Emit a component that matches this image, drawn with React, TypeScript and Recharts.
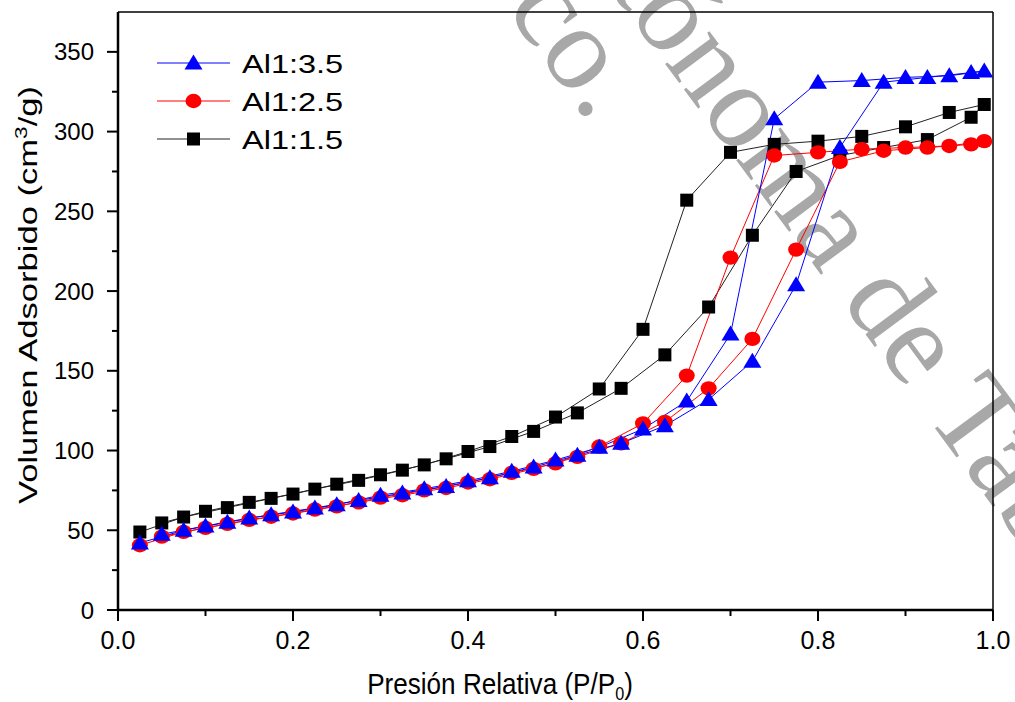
import React from 'react';
import { LineChart, Line, XAxis, YAxis, ReferenceLine } from 'recharts';

// relative pressure steps: one branch on the 0.05 grid, the other on the 0.025 offsets
const P_UP = [0.05, 0.1, 0.15, 0.2, 0.25, 0.3, 0.35, 0.4, 0.45, 0.5, 0.55, 0.6, 0.65, 0.7, 0.75, 0.8, 0.85, 0.9, 0.95, 0.99];
const P_DOWN = [0.975, 0.925, 0.875, 0.825, 0.775, 0.725, 0.675, 0.625, 0.575, 0.525, 0.475, 0.425, 0.375, 0.325, 0.275, 0.225, 0.175, 0.125, 0.075, 0.025];

const al35Up = [47.5, 52.7, 57.7, 61.5, 66, 72, 76, 81, 87, 94, 102, 113.5, 131, 173, 308, 331, 332, 334, 335, 338];
const al35Down = [337, 334, 331, 290, 204, 156, 132, 115.6, 104.5, 97, 89.6, 83, 77.5, 73.3, 68.7, 64, 59.8, 55, 50, 42];

const al25Up = [46, 51.5, 56.5, 60.5, 65, 70.5, 75, 80, 86, 92, 102.5, 117, 147, 221, 285, 287, 289, 290, 291, 294];
const al25Down = [292, 290, 288, 281, 226, 170, 139, 118, 104.5, 96, 88.5, 82, 76.5, 72, 67.5, 63, 58.5, 54, 49, 40.6];

const al15Up = [54.6, 61.9, 67.5, 72.7, 78.9, 84.8, 91, 99.4, 108.8, 121, 138.6, 176, 257, 287, 292, 294, 297, 303, 312, 317];
const al15Down = [309, 295, 290, 285, 275, 235, 190, 160, 139, 123.6, 112, 102.5, 94.8, 87.7, 81.3, 75.8, 70, 64.2, 58.3, 48.9];

const X_TICKS = [0, 0.1, 0.2, 0.3, 0.4, 0.5, 0.6, 0.7, 0.8, 0.9, 1.0];
const Y_TICKS = [0, 25, 50, 75, 100, 125, 150, 175, 200, 225, 250, 275, 300, 325, 350];

const FONT = '"Liberation Sans", Arial, sans-serif';

const loop = (up: number[], down: number[]) =>
  P_UP.map((x, i) => ({ x, y: up[i] })).concat(P_DOWN.map((x, i) => ({ x, y: down[i] })));

// drawn in this order (black under red under blue); legend lists them reversed
const SERIES = [
  { name: 'Al1:1.5', color: '#000000', line: '#222222', shape: 'square', data: loop(al15Up, al15Down) },
  { name: 'Al1:2.5', color: '#ff0000', line: '#ff0000', shape: 'circle', data: loop(al25Up, al25Down) },
  { name: 'Al1:3.5', color: '#0000ff', line: '#0000ff', shape: 'triangle', data: loop(al35Up, al35Down) },
];

function Marker({ cx, cy, shape, color }: { cx: number; cy: number; shape: string; color: string }) {
  if (cx == null || cy == null) return null;
  if (shape === 'triangle') {
    return <polygon points={`${cx},${cy - 8.5} ${cx - 9},${cy + 6.5} ${cx + 9},${cy + 6.5}`} fill={color} />;
  }
  if (shape === 'circle') {
    return <ellipse cx={cx} cy={cy} rx={8} ry={7.2} fill={color} />;
  }
  return <rect x={cx - 6.5} y={cy - 6.5} width={13} height={13} fill={color} />;
}

// ─── custom ticks with minor marks ────────────────────────────────────────────

function XTick({ x, y, payload }: any) {
  const v = payload.value;
  const major = Math.round(v * 10) % 2 === 0;
  return (
    <g>
      <line x1={x} y1={y} x2={x} y2={y + (major ? 11 : 6)} stroke="#000" strokeWidth={2} />
      {major && (
        <text x={x} y={y + 39} textAnchor="middle" fontSize={25} fontFamily={FONT} fill="#000">
          {v.toFixed(1)}
        </text>
      )}
    </g>
  );
}

function YTick({ x, y, payload }: any) {
  const v = payload.value;
  const major = v % 50 === 0;
  return (
    <g>
      <line x1={x} y1={y} x2={x - (major ? 11 : 6)} y2={y} stroke="#000" strokeWidth={2} />
      {major && (
        <text x={x - 24} y={y + 8.5} textAnchor="end" fontSize={24} fontFamily={FONT} fill="#000">
          {v}
        </text>
      )}
    </g>
  );
}

// ─── watermark, titles, legend ────────────────────────────────────────────────

function Watermark() {
  const style = { fontFamily: '"Liberation Serif", "Times New Roman", serif', fontSize: 120, fill: '#a8a8a8' };
  return (
    <svg width={1015} height={702} style={{ position: 'absolute', left: 0, top: 0 }}>
      <text transform="translate(590,124) rotate(53.5)" textAnchor="end" style={style}>
        Universidad Juárez Autónoma de Tabasco.
      </text>
      <text transform="translate(822,276) rotate(53.5)" textAnchor="end" style={style}>
        Universidad Juárez Autónoma
      </text>
      <text transform="translate(840,300) rotate(53.5)" textAnchor="start" style={style}>
        de Tabasco.
      </text>
    </svg>
  );
}

function Overlay() {
  const legend = [...SERIES].reverse();
  return (
    <svg width={1015} height={702} style={{ position: 'absolute', left: 0, top: 0, pointerEvents: 'none' }}>
      {legend.map((s, i) => {
        const cy = 63 + i * 38;
        return (
          <g key={s.name}>
            <line x1={157} y1={cy} x2={230} y2={cy} stroke={s.line} strokeWidth={1} />
            <Marker cx={193.5} cy={cy} shape={s.shape} color={s.color} />
            <text transform={`translate(242,${cy + 9.5}) scale(1.25,1)`} fontSize={26} fontFamily={FONT} fill="#000">
              {s.name}
            </text>
          </g>
        );
      })}
      <text transform="translate(500,694) scale(0.9,1)" textAnchor="middle" fontSize={29} fontFamily={FONT} fill="#000">
        Presión Relativa (P/P<tspan fontSize={18} dy={6}>0</tspan><tspan dy={-6}>)</tspan>
      </text>
      <text transform="translate(37,295) rotate(-90) scale(1.33,1)" textAnchor="middle" fontSize={26} fontFamily={FONT} fill="#000">
        Volumen Adsorbido (cm<tspan fontSize={17} dy={-10}>3</tspan><tspan dy={10}>/g)</tspan>
      </text>
    </svg>
  );
}

export default function App() {
  return (
    <div style={{ position: 'absolute', left: 0, top: 0, width: 1015, height: 702, overflow: 'hidden', background: '#fff' }}>
      <Watermark />
      <div style={{ position: 'absolute', left: 0, top: 0 }}>
        <LineChart width={1015} height={702} margin={{ top: 12, right: 22, bottom: 32, left: 58 }}>
          <XAxis
            dataKey="x"
            type="number"
            domain={[0, 1]}
            ticks={X_TICKS}
            allowDataOverflow
            height={60}
            tickSize={0}
            tickMargin={0}
            tickLine={false}
            tick={<XTick />}
            axisLine={{ stroke: '#000', strokeWidth: 2.5 }}
            interval={0}
          />
          <YAxis
            type="number"
            domain={[0, 375]}
            ticks={Y_TICKS}
            allowDataOverflow
            width={60}
            tickSize={0}
            tickMargin={0}
            tickLine={false}
            tick={<YTick />}
            axisLine={{ stroke: '#000', strokeWidth: 2.5 }}
            interval={0}
          />
          <ReferenceLine y={375} stroke="#000" strokeWidth={1.5} />
          <ReferenceLine x={1} stroke="#000" strokeWidth={1.5} />
          {SERIES.map(s => (
            <Line
              key={s.name}
              data={s.data}
              dataKey="y"
              type="linear"
              stroke={s.line}
              strokeWidth={1}
              isAnimationActive={false}
              activeDot={false}
              dot={(p: any) => <Marker key={`${s.name}-${p.index}`} cx={p.cx} cy={p.cy} shape={s.shape} color={s.color} />}
            />
          ))}
        </LineChart>
      </div>
      <Overlay />
    </div>
  );
}
